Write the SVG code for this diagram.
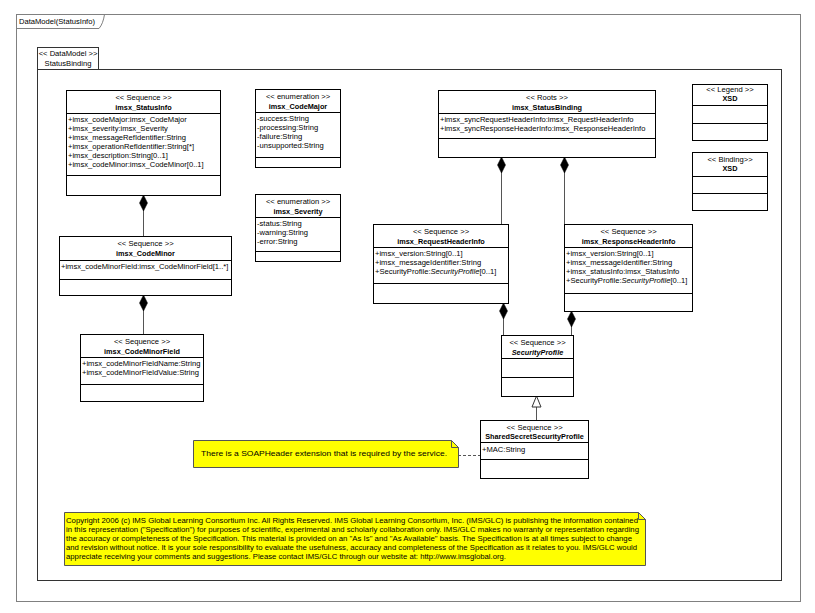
<svg xmlns="http://www.w3.org/2000/svg" width="815" height="613" viewBox="0 0 815 613">
<defs>
<style>
text{font-family:"Liberation Sans",Arial,sans-serif;font-size:7.6px;fill:#000}
.c{text-anchor:middle}
.b{font-weight:bold;font-size:7.3px}
.i{font-style:italic}
.box{fill:#fff;stroke:#000;stroke-width:1}
.ln{stroke:#000;stroke-width:1}
.con{stroke:#555;stroke-width:1;fill:none}
.dia{fill:#000;stroke:#000;stroke-width:0.5}
.note{fill:#ffff00;stroke:#555;stroke-width:1}
.n{font-size:7.7px}
</style>
</defs>
<rect x="0" y="0" width="815" height="613" fill="#fff"/>
<g id="frame">
<rect x="16.5" y="14.5" width="784" height="587" fill="none" stroke="#808080"/>
<path d="M16.5 28.5 H99 Q103 24 104.5 14.5" fill="none" stroke="#808080"/>
<text x="19" y="24">DataModel(StatusInfo)</text>
</g>
<g id="package">
<rect x="37.5" y="47.5" width="61" height="22" fill="#fff" stroke="#333"/>
<rect x="37.5" y="69.5" width="744" height="511" fill="none" stroke="#333"/>
<text x="68" y="56" class="c">&lt;&lt; DataModel &gt;&gt;</text>
<text x="68" y="66" class="c">StatusBinding</text>
</g>
<g id="connectors">
<line class="con" x1="143.5" y1="205" x2="143.5" y2="237"/>
<polygon class="dia" points="143.5,195 147.5,203 143.5,211 139.5,203"/>
<line class="con" x1="143.5" y1="305" x2="143.5" y2="335"/>
<polygon class="dia" points="143.5,295 147.5,303 143.5,311 139.5,303"/>
<line class="con" x1="501.5" y1="167" x2="501.5" y2="225"/>
<polygon class="dia" points="501.5,157 505.5,165 501.5,173 497.5,165"/>
<line class="con" x1="564.5" y1="167" x2="564.5" y2="225"/>
<polygon class="dia" points="564.5,157 568.5,165 564.5,173 560.5,165"/>
<line class="con" x1="503.5" y1="313" x2="503.5" y2="335"/>
<polygon class="dia" points="503.5,303 507.5,311 503.5,319 499.5,311"/>
<line class="con" x1="571.5" y1="321" x2="571.5" y2="335"/>
<polygon class="dia" points="571.5,311 575.5,319 571.5,327 567.5,319"/>
<line class="con" x1="536.5" y1="407" x2="536.5" y2="420"/>
<polygon points="536.5,396 541,407 532,407" fill="#fff" stroke="#333"/>
<line class="con" x1="458" y1="455.5" x2="480" y2="455.5" stroke-dasharray="3,2"/>
</g>
<g id="StatusInfo">
<rect class="box" x="66.5" y="90.5" width="154" height="105"/>
<line class="ln" x1="66.5" y1="113.5" x2="220.5" y2="113.5"/>
<line class="ln" x1="66.5" y1="175.5" x2="220.5" y2="175.5"/>
<text x="143.5" y="100" class="c">&lt;&lt; Sequence &gt;&gt;</text>
<text x="143.5" y="110" class="c b">imsx_StatusInfo</text>
<text x="68" y="121.5">+imsx_codeMajor:imsx_CodeMajor</text>
<text x="68" y="130.5">+imsx_severity:imsx_Severity</text>
<text x="68" y="139.5">+imsx_messageRefIdentifier:String</text>
<text x="68" y="148.5">+imsx_operationRefIdentifier:String[*]</text>
<text x="68" y="157.5">+imsx_description:String[0..1]</text>
<text x="68" y="166.5">+imsx_codeMinor:imsx_CodeMinor[0..1]</text>
</g>
<g id="CodeMajor">
<rect class="box" x="255.5" y="89.5" width="85" height="78"/>
<line class="ln" x1="255.5" y1="112.5" x2="340.5" y2="112.5"/>
<line class="ln" x1="255.5" y1="157.5" x2="340.5" y2="157.5"/>
<text x="298" y="99" class="c">&lt;&lt; enumeration &gt;&gt;</text>
<text x="298" y="109" class="c b">imsx_CodeMajor</text>
<text x="257" y="121">-success:String</text>
<text x="257" y="130">-processing:String</text>
<text x="257" y="139">-failure:String</text>
<text x="257" y="148">-unsupported:String</text>
</g>
<g id="Severity">
<rect class="box" x="255.5" y="194.5" width="85" height="67"/>
<line class="ln" x1="255.5" y1="217.5" x2="340.5" y2="217.5"/>
<line class="ln" x1="255.5" y1="251.5" x2="340.5" y2="251.5"/>
<text x="298" y="204" class="c">&lt;&lt; enumeration &gt;&gt;</text>
<text x="298" y="214" class="c b">imsx_Severity</text>
<text x="257" y="226">-status:String</text>
<text x="257" y="235">-warning:String</text>
<text x="257" y="244">-error:String</text>
</g>
<g id="CodeMinor">
<rect class="box" x="59.5" y="236.5" width="172" height="59"/>
<line class="ln" x1="59.5" y1="260.5" x2="231.5" y2="260.5"/>
<line class="ln" x1="59.5" y1="279.5" x2="231.5" y2="279.5"/>
<text x="145.5" y="246" class="c">&lt;&lt; Sequence &gt;&gt;</text>
<text x="145.5" y="256" class="c b">imsx_CodeMinor</text>
<text x="61" y="269">+imsx_codeMinorField:imsx_CodeMinorField[1..*]</text>
</g>
<g id="CodeMinorField">
<rect class="box" x="80.5" y="334.5" width="123" height="67"/>
<line class="ln" x1="80.5" y1="357.5" x2="203.5" y2="357.5"/>
<line class="ln" x1="80.5" y1="384.5" x2="203.5" y2="384.5"/>
<text x="142" y="344" class="c">&lt;&lt; Sequence &gt;&gt;</text>
<text x="142" y="354" class="c b">imsx_CodeMinorField</text>
<text x="82" y="366">+imsx_codeMinorFieldName:String</text>
<text x="82" y="375">+imsx_codeMinorFieldValue:String</text>
</g>
<g id="StatusBinding">
<rect class="box" x="438.5" y="90.5" width="217" height="67"/>
<line class="ln" x1="438.5" y1="113.5" x2="655.5" y2="113.5"/>
<line class="ln" x1="438.5" y1="138.5" x2="655.5" y2="138.5"/>
<text x="547" y="100" class="c">&lt;&lt; Roots &gt;&gt;</text>
<text x="547" y="110" class="c b">imsx_StatusBinding</text>
<text x="440" y="122">+imsx_syncRequestHeaderInfo:imsx_RequestHeaderInfo</text>
<text x="440" y="131">+imsx_syncResponseHeaderInfo:imsx_ResponseHeaderInfo</text>
</g>
<g id="Legend">
<rect class="box" x="692.5" y="84.5" width="75" height="56"/>
<line class="ln" x1="692.5" y1="105.5" x2="767.5" y2="105.5"/>
<line class="ln" x1="692.5" y1="123.5" x2="767.5" y2="123.5"/>
<text x="730" y="92" class="c">&lt;&lt; Legend &gt;&gt;</text>
<text x="730" y="101" class="c b">XSD</text>
</g>
<g id="Binding">
<rect class="box" x="692.5" y="152.5" width="75" height="58"/>
<line class="ln" x1="692.5" y1="176.5" x2="767.5" y2="176.5"/>
<line class="ln" x1="692.5" y1="193.5" x2="767.5" y2="193.5"/>
<text x="730" y="162" class="c">&lt;&lt; Binding&gt;&gt;</text>
<text x="730" y="171" class="c b">XSD</text>
</g>
<g id="RequestHeaderInfo">
<rect class="box" x="373.5" y="224.5" width="135" height="79"/>
<line class="ln" x1="373.5" y1="247.5" x2="508.5" y2="247.5"/>
<line class="ln" x1="373.5" y1="283.5" x2="508.5" y2="283.5"/>
<text x="441" y="234" class="c">&lt;&lt; Sequence &gt;&gt;</text>
<text x="441" y="244" class="c b">imsx_RequestHeaderInfo</text>
<text x="375" y="256">+imsx_version:String[0..1]</text>
<text x="375" y="265">+imsx_messageIdentifier:String</text>
<text x="375" y="274">+SecurityProfile:<tspan class="i">SecurityProfile</tspan>[0..1]</text>
</g>
<g id="ResponseHeaderInfo">
<rect class="box" x="564.5" y="224.5" width="128" height="87"/>
<line class="ln" x1="564.5" y1="247.5" x2="692.5" y2="247.5"/>
<line class="ln" x1="564.5" y1="293.5" x2="692.5" y2="293.5"/>
<text x="628.5" y="234" class="c">&lt;&lt; Sequence &gt;&gt;</text>
<text x="628.5" y="244" class="c b">imsx_ResponseHeaderInfo</text>
<text x="566" y="256">+imsx_version:String[0..1]</text>
<text x="566" y="265">+imsx_messageIdentifier:String</text>
<text x="566" y="274">+imsx_statusInfo:imsx_StatusInfo</text>
<text x="566" y="283">+SecurityProfile:<tspan class="i">SecurityProfile</tspan>[0..1]</text>
</g>
<g id="SecurityProfile">
<rect class="box" x="501.5" y="335.5" width="72" height="61"/>
<line class="ln" x1="501.5" y1="358.5" x2="573.5" y2="358.5"/>
<line class="ln" x1="501.5" y1="377.5" x2="573.5" y2="377.5"/>
<text x="537.5" y="345" class="c">&lt;&lt; Sequence &gt;&gt;</text>
<text x="537.5" y="355" class="c b i">SecurityProfile</text>
</g>
<g id="SharedSecretSecurityProfile">
<rect class="box" x="480.5" y="420.5" width="108" height="58"/>
<line class="ln" x1="480.5" y1="442.5" x2="588.5" y2="442.5"/>
<line class="ln" x1="480.5" y1="459.5" x2="588.5" y2="459.5"/>
<text x="534.5" y="430" class="c">&lt;&lt; Sequence &gt;&gt;</text>
<text x="534.5" y="439" class="c b">SharedSecretSecurityProfile</text>
<text x="482" y="452">+MAC:String</text>
</g>
<g id="note-soap">
<path class="note" d="M193.5 440.5 H451.5 L458.5 447.5 V467.5 H193.5 Z"/>
<path d="M451.5 440.5 V447.5 H458.5" fill="none" stroke="#555"/>
<text class="n" x="201" y="456" textLength="246" lengthAdjust="spacingAndGlyphs">There is a SOAPHeader extension that is required by the service.</text>
</g>
<g id="note-copyright">
<path class="note" d="M64.5 512.5 H638.5 L645.5 519.5 V565.5 H64.5 Z"/>
<path d="M638.5 512.5 V519.5 H645.5" fill="none" stroke="#555"/>
<text class="n" x="66" y="523" textLength="572" lengthAdjust="spacingAndGlyphs">Copyright  2006 (c) IMS Global Learning Consortium Inc.  All Rights Reserved.  IMS Global Learning Consortium, Inc. (IMS/GLC) is publishing the information contained</text>
<text class="n" x="66" y="532" textLength="573" lengthAdjust="spacingAndGlyphs">in this representation ("Specification") for purposes of scientific, experimental and scholarly collaboration only.  IMS/GLC makes no warranty or representation regarding</text>
<text class="n" x="66" y="541" textLength="566" lengthAdjust="spacingAndGlyphs">the accuracy or completeness of the Specification.  This material is provided on an "As Is" and "As Available" basis.  The Specification is at all times subject to change</text>
<text class="n" x="66" y="550" textLength="571" lengthAdjust="spacingAndGlyphs">and revision without notice.  It is your sole responsibility to evaluate the usefulness, accuracy and completeness of the Specification as it relates to you.  IMS/GLC would</text>
<text class="n" x="66" y="559" textLength="440" lengthAdjust="spacingAndGlyphs">appreciate receiving your comments and suggestions.  Please contact IMS/GLC through our website at: http://www.imsglobal.org.</text>
</g>
</svg>
